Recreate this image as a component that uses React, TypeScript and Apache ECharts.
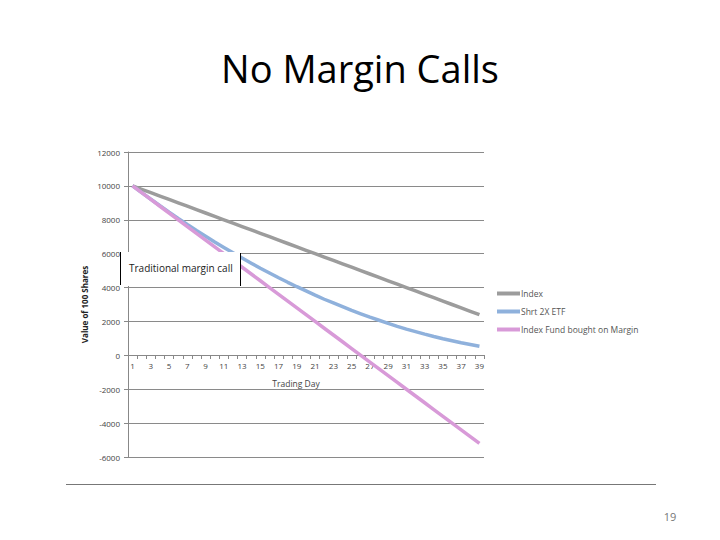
import React, { useEffect, useRef } from "react";
import * as echarts from "echarts";

const days = [
  "1", "2", "3", "4", "5", "6", "7", "8", "9", "10", "11", "12", "13", "14", "15", "16", "17", "18", "19", "20",
  "21", "22", "23", "24", "25", "26", "27", "28", "29", "30", "31", "32", "33", "34", "35", "36", "37", "38", "39",
];

const indexValues = [
  10000, 9800, 9600, 9400, 9200, 9000, 8800, 8600, 8400, 8200, 8000, 7800, 7600, 7400, 7200, 7000, 6800, 6600, 6400, 6200,
  6000, 5800, 5600, 5400, 5200, 5000, 4800, 4600, 4400, 4200, 4000, 3800, 3600, 3400, 3200, 3000, 2800, 2600, 2400,
];

const etfValues = [
  10000, 9600, 9210, 8825, 8450, 8080, 7720, 7370, 7030, 6690, 6370, 6050, 5740, 5440, 5140, 4860, 4580, 4310, 4050, 3800,
  3550, 3310, 3090, 2870, 2650, 2450, 2250, 2070, 1890, 1710, 1550, 1400, 1250, 1110, 980, 860, 740, 640, 540,
];

const marginValues = [
  10000, 9600, 9200, 8800, 8400, 8000, 7600, 7200, 6800, 6400, 6000, 5600, 5200, 4800, 4400, 4000, 3600, 3200, 2800, 2400,
  2000, 1600, 1200, 800, 400, 0, -400, -800, -1200, -1600, -2000, -2400, -2800, -3200, -3600, -4000, -4400, -4800, -5200,
];

const seriesNames = ["Index", "Shrt 2X ETF", "Index Fund bought on Margin"];
const seriesColors = ["#9c9c9c", "#8fb1dc", "#d89ad8"];

const FONT = "'Open Sans', 'Noto Sans', sans-serif";

export default function App() {
  const ref = useRef<HTMLDivElement>(null);

  useEffect(() => {
    document.body.style.margin = "0";
    if (!ref.current) return;
    const chart = echarts.init(ref.current, undefined, { renderer: "svg" });
    const dataSets = [indexValues, etfValues, marginValues];
    chart.setOption({
      animation: false,
      backgroundColor: "#ffffff",
      grid: { left: 128, right: 236, top: 152, bottom: 83, containLabel: false },
      legend: {
        orient: "vertical",
        left: 497,
        top: 289,
        padding: 0,
        itemWidth: 23,
        itemHeight: 4,
        itemGap: 9,
        icon: "rect",
        textStyle: { fontSize: 8.5, color: "#555", fontFamily: FONT, padding: [0, 0, 0, -4] },
        data: seriesNames,
      },
      xAxis: {
        type: "category",
        data: days,
        boundaryGap: true,
        offset: -102,
        axisLine: { show: true, onZero: false, lineStyle: { color: "#888", width: 1 } },
        axisTick: { show: true, interval: 0, length: 4, lineStyle: { color: "#888" } },
        axisLabel: { interval: 1, fontSize: 8, color: "#444", fontFamily: FONT, margin: 6 },
        name: "Trading Day",
        nameLocation: "middle",
        nameGap: 24,
        nameTextStyle: { fontSize: 8.5, color: "#444", fontFamily: FONT, padding: [0, 20, 0, 0] },
        splitLine: { show: false },
      },
      yAxis: {
        type: "value",
        min: -6000,
        max: 12000,
        interval: 2000,
        axisLine: { show: true, lineStyle: { color: "#888", width: 1 } },
        axisTick: { show: true, length: 4, lineStyle: { color: "#888" } },
        axisLabel: {
          fontSize: 8,
          color: "#444",
          fontFamily: FONT,
          margin: 8,
          formatter: (v: number) => String(v),
        },
        splitLine: { show: true, lineStyle: { color: "#8a8a8a", width: 1 } },
        name: "Value of 100 Shares",
        nameLocation: "middle",
        nameGap: 40,
        nameTextStyle: { fontSize: 8, color: "#222", fontWeight: "bold", fontFamily: FONT },
      },
      series: seriesNames.map((name, i) => ({
        name,
        type: "line",
        data: dataSets[i],
        showSymbol: false,
        symbol: "none",
        smooth: false,
        lineStyle: { color: seriesColors[i], width: 3.5 },
        itemStyle: { color: seriesColors[i] },
        z: 2 + i,
      })),
      graphic: [
        {
          type: "rect",
          shape: { x: 121, y: 252, width: 119, height: 34 },
          style: { fill: "#ffffff" },
          z: 100,
        },
        {
          type: "line",
          shape: { x1: 120.5, y1: 252, x2: 120.5, y2: 285 },
          style: { stroke: "#000", lineWidth: 1 },
          z: 101,
        },
        {
          type: "line",
          shape: { x1: 240.5, y1: 253, x2: 240.5, y2: 286 },
          style: { stroke: "#000", lineWidth: 1 },
          z: 101,
        },
        {
          type: "text",
          x: 129,
          y: 268,
          style: {
            text: "Traditional margin call",
            fontSize: 10,
            fontFamily: FONT,
            fill: "#222",
            verticalAlign: "middle",
          },
          z: 101,
        },
        {
          type: "text",
          x: 360,
          y: 68,
          style: {
            text: "No Margin Calls",
            fontSize: 38,
            fontFamily: FONT,
            fill: "#000",
            align: "center",
            verticalAlign: "middle",
          },
        },
        {
          type: "line",
          shape: { x1: 66, y1: 484.5, x2: 656, y2: 484.5 },
          style: { stroke: "#777", lineWidth: 1.2 },
        },
        {
          type: "text",
          x: 670,
          y: 516,
          style: {
            text: "19",
            fontSize: 11,
            fontFamily: FONT,
            fill: "#777",
            align: "center",
            verticalAlign: "middle",
          },
        },
      ],
    });
    return () => chart.dispose();
  }, []);

  return (
    <div
      ref={ref}
      style={{ position: "absolute", left: 0, top: 0, width: 720, height: 540 }}
    />
  );
}
